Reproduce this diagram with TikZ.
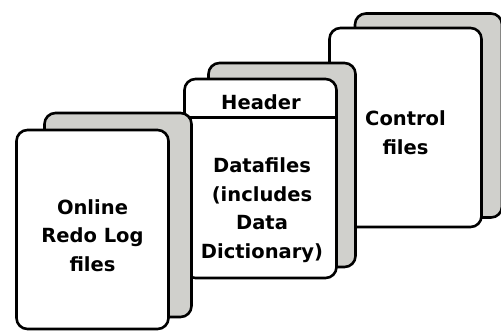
\documentclass[tikz,border=0pt]{standalone}
\usepackage{fontspec}
\setmainfont{DejaVu Sans}
\usepackage{xcolor}
\definecolor{pagegray}{HTML}{D0D0CC}
\usepackage{tikz}
\usetikzlibrary{positioning}

\begin{document}
\begin{tikzpicture}[
        x=1pt, y=-1pt,
        backcard/.style={rectangle, draw=black, fill=pagegray, line width=2.6pt, rounded corners=11pt, minimum width=147pt, minimum height=204pt, inner sep=0pt, outer sep=0pt},
        frontcard/.style={rectangle, draw=black, fill=white, line width=2.6pt, rounded corners=11pt, minimum width=152pt, minimum height=199pt, inner sep=0pt, outer sep=0pt},
        cardtext/.style={align=center, inner sep=0pt, font=\bfseries\fontsize{19.5}{28.5}\selectfont},
        divider/.style={line width=2.6pt}
    ]
        \useasboundingbox (0,0) rectangle (501,333);

        % Control files
        \node[backcard] (ctrlback) at (428.5,115.5) {};
        \node[frontcard] (ctrl) at (405.5,127.5) {};
        \node[cardtext] (ctrltext) at ([yshift=-5pt]ctrl.center) {Control\\files};

        % Datafiles
        \node[backcard] (databack) at (282,165) {};
        \node[frontcard] (data) at (260.5,178.5) {};
        \node[cardtext, minimum height=30pt] (header) at (261,102) {Header};
        \draw[divider] (data.west |- header.south) -- (data.east |- header.south);
        \node[cardtext] (datatext) at (262,210) {Datafiles\\(includes\\Data\\Dictionary)};

        % Online redo log files
        \node[backcard] (redoback) at (118,215) {};
        \node[frontcard] (redo) at (92.5,229.5) {};
        \node[cardtext] (redotext) at ([yshift=-6pt]redo.center) {Online\\Redo Log\\files};

    \end{tikzpicture}
\end{document}
